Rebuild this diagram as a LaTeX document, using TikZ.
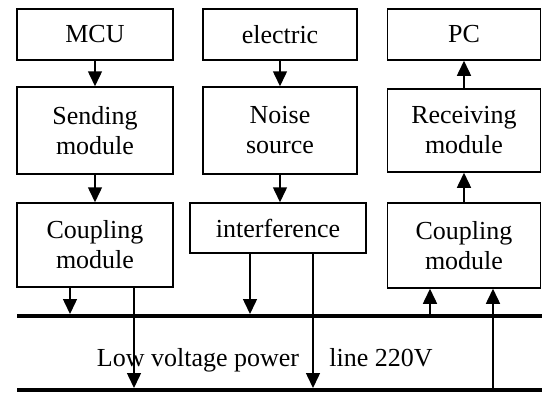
\documentclass[tikz,border=0pt]{standalone}
\usepackage{fontspec}
\setmainfont{Liberation Serif}
\usetikzlibrary{arrows.meta}
\begin{document}
\begin{tikzpicture}[x=1pt,y=-1pt,
  box/.style={draw,line width=1.5pt,inner sep=0pt,align=center,font=\fontsize{26}{30}\selectfont},
  arr/.style={line width=1.5pt,-{Triangle[width=14pt,length=15pt]}},
  bus/.style={line width=4pt},
  lbl/.style={font=\fontsize{26}{30}\selectfont,inner sep=0pt,anchor=base}]
\useasboundingbox (0,0) rectangle (542,392);
% row 1
\node[box,minimum width=156pt,minimum height=51pt] (mcu) at (95,34.5) {MCU};
\node[box,minimum width=154pt,minimum height=51pt] (elec) at (280,34.5) {electric};
\node[box,minimum width=153pt,minimum height=51pt] (pc) at (464,34.5) {PC};
% row 2
\node[box,minimum width=156pt,minimum height=87pt] (send) at (95,130.5) {Sending\\module};
\node[box,minimum width=154pt,minimum height=87pt] (noise) at (280,130.5) {Noise\\source};
\node[box,minimum width=153pt,minimum height=83pt] (recv) at (464,130.5) {Receiving\\module};
% row 3
\node[box,minimum width=156pt,minimum height=84pt] (coupL) at (95,245) {Coupling\\module};
\node[box,minimum width=176pt,minimum height=50pt] (interf) at (278,228) {interference};
\node[box,minimum width=153pt,minimum height=85pt] (coupR) at (464,245.5) {Coupling\\module};
% vertical arrows between boxes
\draw[arr] (mcu.south) -- (send.north);
\draw[arr] (elec.south) -- (noise.north);
\draw[arr] (recv.north) -- (pc.south);
\draw[arr] (send.south) -- (coupL.north);
\draw[arr] (noise.south) -- (noise.south |- interf.north);
\draw[arr] (coupR.north) -- (recv.south);
% bus lines
\coordinate (tl) at (17,316);
\coordinate (tr) at (542,316);
\coordinate (bl) at (17,390);
\coordinate (br) at (542,390);
\draw[bus] (tl) -- (tr);
\draw[bus] (bl) -- (br);
% arrow end points on the bus
\coordinate (a1) at (70,314);
\coordinate (b1) at (134,388);
\coordinate (a2) at (250,314);
\coordinate (b2) at (313,388);
\coordinate (c1) at (430,316);
\coordinate (c2) at (493,390);
\draw[arr] (coupL.south -| a1) -- (a1);
\draw[arr] (coupL.south -| b1) -- (b1);
\draw[arr] (interf.south -| a2) -- (a2);
\draw[arr] (interf.south -| b2) -- (b2);
\draw[arr] (c1) -- (coupR.south -| c1);
\draw[arr] (c2) -- (coupR.south -| c2);
% label
\node[lbl] (t1) at (198,366) {Low voltage power};
\node[lbl] (t2) at (381,366) {line 220V};
\end{tikzpicture}
\end{document}
